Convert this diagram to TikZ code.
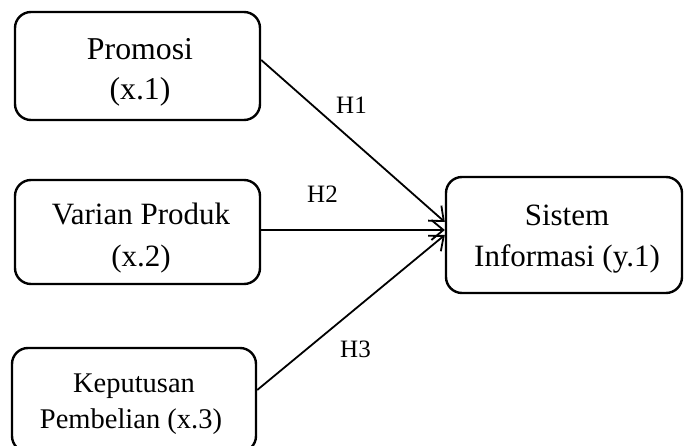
\documentclass[tikz,border=0pt]{standalone}
\usepackage{fontspec}
\setmainfont{Liberation Serif}
\usetikzlibrary{arrows.meta}
\begin{document}
\begin{tikzpicture}[x=1pt,y=-1pt,
  box/.style={draw,line width=2.4pt,rounded corners=16pt,inner sep=0pt},
  txt/.style={align=center,inner sep=0pt,font=\fontsize{31}{40}\selectfont},
  bigtxt/.style={align=center,inner sep=0pt,font=\fontsize{31.8}{40}\selectfont},
  smalltxt/.style={align=center,inner sep=0pt,font=\fontsize{28.5}{36}\selectfont},
  hlab/.style={inner sep=0pt,anchor=base west,font=\fontsize{25}{30}\selectfont},
  conn/.style={line width=1.8pt,-{Straight Barb[length=12pt,width=20pt,line width=1.8pt]}}]
\useasboundingbox (0,0) rectangle (685,446);
% boxes
\node[box,minimum width=245pt,minimum height=108pt] (x1) at (137.5,66) {};
\node[box,minimum width=245pt,minimum height=104pt] (x2) at (137.5,232) {};
\node[box,minimum width=244pt,minimum height=104pt] (x3) at (134,400) {};
\node[box,minimum width=236pt,minimum height=116pt] (y1) at (564,235) {};
% texts
\node[bigtxt,anchor=base] (p1) at (140,60) {Promosi};
\node[bigtxt,anchor=base] (p2) at (140,100) {(x.1)};
\node[txt,anchor=base] (v1) at (141,225) {Varian Produk};
\node[txt,anchor=base] (v2) at (141,266) {(x.2)};
\node[smalltxt,anchor=base] (k1) at (134,392) {Keputusan};
\node[smalltxt,anchor=base] (k2) at (131,428) {Pembelian (x.3)};
\node[txt,anchor=base] (s1) at (567,226) {Sistem};
\node[txt,anchor=base] (s2) at (567,267) {Informasi (y.1)};
% connectors
\draw[conn] ([yshift=6pt]x1.east) -- ([yshift=13pt]y1.west);
\draw[conn] ([yshift=2pt]x2.east) -- ([yshift=5pt]y1.west);
\draw[conn] ([yshift=10pt]x3.east) -- (y1.west);
\node[hlab] (h1) at (336,114) {H1};
\node[hlab] (h2) at (307,203) {H2};
\node[hlab] (h3) at (340,357) {H3};
\end{tikzpicture}
\end{document}
